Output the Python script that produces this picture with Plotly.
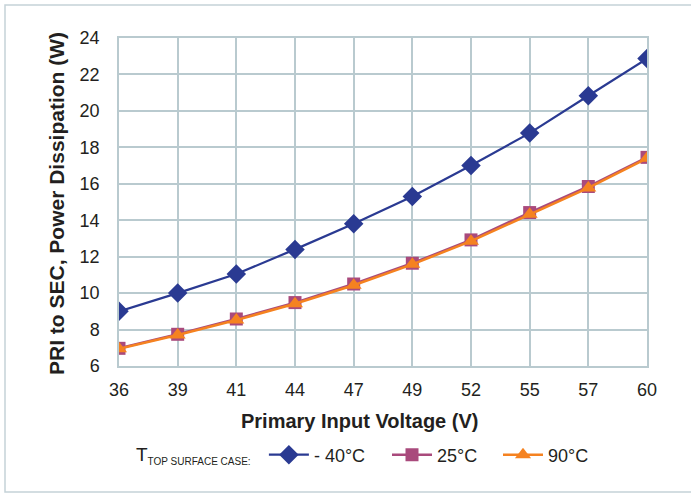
import plotly.graph_objects as go

voltages = ["36", "39", "41", "44", "47", "49", "52", "55", "57", "60"]
p_m40 = [9.0, 10.0, 11.05, 12.4, 13.8, 15.3, 17.0, 18.78, 20.83, 22.87]
p_25 = [6.97, 7.74, 8.58, 9.48, 10.5, 11.64, 12.92, 14.42, 15.85, 17.45]
p_90 = [6.95, 7.7, 8.52, 9.42, 10.43, 11.58, 12.85, 14.33, 15.77, 17.4]
y_ticks = [6, 8, 10, 12, 14, 16, 18, 20, 22, 24]

series_names = ["- 40°C", "25°C", "90°C"]
colors = ["#2A3A92", "#A94A7C", "#F58220"]
symbols = ["diamond", "square", "triangle-up"]
msizes = [15, 13, 14]
widths = [2.2, 2.5, 2.5]
legend_ids = ["legend", "legend2", "legend3"]

idx = list(range(len(voltages)))
fig = go.Figure()
for name, vals, c, s, ms, w, lg in zip(series_names, [p_m40, p_25, p_90], colors, symbols,
                                       msizes, widths, legend_ids):
    fig.add_trace(go.Scatter(
        x=idx, y=vals, name=name, mode="lines+markers", legend=lg,
        line=dict(color=c, width=w),
        marker=dict(symbol=s, size=ms, color=c, line=dict(width=0)),
    ))

grid = "#B9CACF"
font = "Liberation Sans, Arial, sans-serif"
W, H = 691, 494
L, R, T, B = 119, 647, 38, 366
LEG_Y = (H - 455) / H

def leg(x_px, **kw):
    d = dict(orientation="h", xref="container", yref="container",
             x=x_px / W, y=LEG_Y, xanchor="left", yanchor="middle",
             font=dict(size=18), itemwidth=40, bgcolor="rgba(0,0,0,0)")
    d.update(kw)
    return d

fig.update_layout(
    width=W, height=H,
    margin=dict(l=L, r=W - R, t=T, b=H - B, autoexpand=False),
    paper_bgcolor="white", plot_bgcolor="white",
    font=dict(family=font, size=18, color="#231F20"),
    xaxis=dict(
        range=[0, 9], tickmode="array", tickvals=idx, ticktext=voltages,
        showgrid=True, gridcolor=grid, gridwidth=1.5,
        showline=True, linecolor=grid, linewidth=1.5, mirror=True,
        zeroline=False, ticks="", ticklabelstandoff=7, automargin=False,
        tickfont=dict(size=18),
    ),
    yaxis=dict(
        range=[6, 24], tickmode="array", tickvals=y_ticks,
        showgrid=True, gridcolor=grid, gridwidth=1.5,
        showline=True, linecolor=grid, linewidth=1.5, mirror=True,
        zeroline=False, ticks="", ticklabelstandoff=14, automargin=False,
        tickfont=dict(size=18),
    ),
    showlegend=True,
    legend=leg(134, title=dict(
        text="T<sub><span style='font-size:10px'>TOP SURFACE CASE:</span></sub> ",
        side="left", font=dict(size=19))),
    legend2=leg(387),
    legend3=leg(498),
    annotations=[
        dict(text="<b>Primary Input Voltage (V)</b>", xref="paper", yref="paper",
             x=(359 - L) / (R - L), y=-(421 - B) / (B - T), xanchor="center", yanchor="middle",
             showarrow=False, font=dict(size=20)),
        dict(text="<b>PRI to SEC, Power Dissipation (W)</b>", xref="paper", yref="paper",
             x=-(L - 56) / (R - L), y=(B - 204) / (B - T), xanchor="center", yanchor="middle",
             textangle=-90, showarrow=False, font=dict(size=21)),
    ],
    shapes=[dict(
        type="rect", xref="paper", yref="paper",
        x0=(5 - L) / (R - L), x1=(720 - L) / (R - L),
        y0=(B - 492) / (B - T), y1=(B - 5) / (B - T),
        line=dict(color="#C5D2D8", width=1.5), fillcolor="rgba(0,0,0,0)", layer="below",
    )],
)

fig.write_html("out.html", config={"displayModeBar": False},
               post_script="document.body.style.margin='0';")
